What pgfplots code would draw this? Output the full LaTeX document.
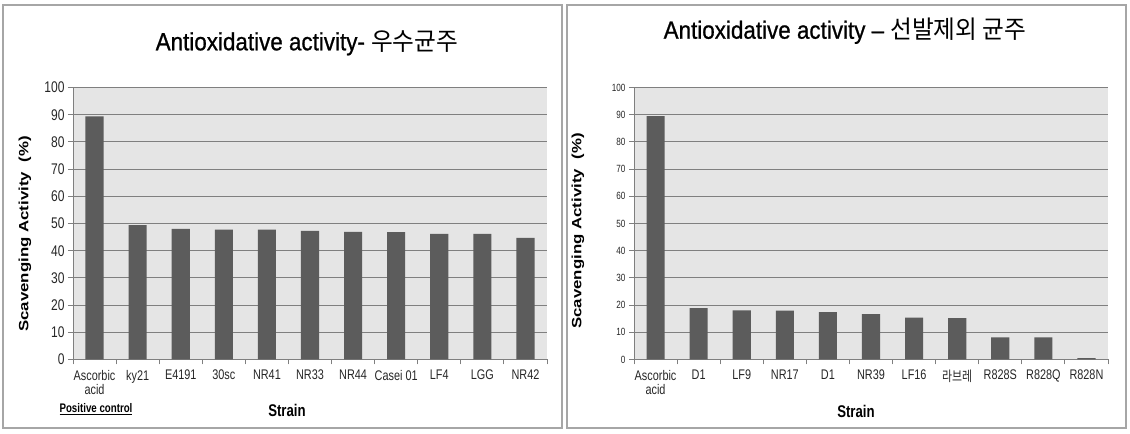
\documentclass[border=0pt]{standalone}
\usepackage{pgfplots}
\pgfplotsset{compat=1.18}
\usepackage{fontspec}
\setmainfont{Liberation Sans}
\newfontfamily\nar[FakeStretch=0.78]{Liberation Sans}
\newfontfamily\krnar[FakeStretch=0.78]{Noto Sans CJK KR}
\newfontfamily\tit[FakeStretch=0.9,FakeBold=0.8]{Liberation Sans}
\newfontfamily\krt[FakeStretch=0.95]{Noto Sans CJK KR}
\newfontfamily\ylab[FakeStretch=1.25]{Liberation Sans}
\definecolor{barc}{HTML}{5C5C5C}
\definecolor{bgc}{HTML}{E5E5E5}
\definecolor{gridc}{HTML}{7F7F7F}
\definecolor{brd}{HTML}{A6A6A6}

\pgfplotstableread{
x y
0 89.4
1 49.4
2 48.0
3 47.7
4 47.7
5 47.3
6 46.9
7 46.8
8 46.2
9 46.2
10 44.7
}\leftdata
\pgfplotstableread{
x y
0 89.5
1 18.9
2 18.1
3 18.0
4 17.4
5 16.7
6 15.4
7 15.2
8 8.1
9 8.1
10 0.5
}\rightdata

\pgfplotsset{myax/.style={
  scale only axis, width=474bp, height=272bp,
  xmin=-0.5, xmax=10.5, ymin=0, ymax=100,
  ytick={0,10,...,100}, xtick={0,...,10},
  minor xtick={-0.5,0.5,...,10.5},
  axis x line*=bottom, axis y line*=left,
  axis line style={draw=gridc, line width=0.9bp},
  axis background/.style={fill=bgc},
  ymajorgrids, major grid style={draw=gridc, line width=0.9bp},
  tick align=outside, major tick length=5bp, minor tick length=5bp,
  major x tick style={draw=none},
  minor x tick style={draw=gridc, line width=0.9bp},
  ytick style={draw=gridc, line width=0.9bp},
  xticklabel style={font=\fontsize{14}{14}\nar, align=center, text=black!85, yshift=-2bp},
  yticklabel style={text=black!85},
  /pgf/number format/assume math mode=true,
  clip=false,
}}

\begin{document}
\begin{tikzpicture}[x=1bp,y=1bp]
\path (0,0) rectangle (1130,434);
\draw[draw=brd, line width=1.3bp] (3,6) rectangle (562,429);
\draw[draw=brd, line width=1.3bp] (567,6) rectangle (1126,429);

\begin{axis}[myax, at={(73bp,74.5bp)}, anchor=south west,
  yticklabel style={font=\fontsize{15.5}{15.5}\nar},
  xticklabels={Ascorbic\\acid, ky21, E4191, 30sc, NR41, NR33, NR44, Casei 01, LF4, LGG, NR42}]
\addplot[ybar, bar width=0.42, fill=barc, draw=none] table[x=x,y=y] {\leftdata};
\end{axis}

\begin{axis}[myax, at={(634bp,74.5bp)}, anchor=south west,
  yticklabel style={font=\fontsize{10.5}{10.5}\nar},
  xticklabels={Ascorbic\\acid, D1, LF9, NR17, D1, NR39, LF16, {\krnar 라브레}, R828S, R828Q, R828N}]
\addplot[ybar, bar width=0.42, fill=barc, draw=none] table[x=x,y=y] {\rightdata};
\end{axis}

\node[font=\fontsize{25}{25}\tit] at (307,391) {Antioxidative activity- {\krt 우수균주}};
\node[font=\fontsize{25}{25}\tit] at (845,403) {Antioxidative activity – {\krt 선발제외 균주}};

\node[rotate=90, font=\fontsize{13.5}{13.5}\ylab\bfseries] at (25,200) {Scavenging Activity~ (\%)};
\node[rotate=90, font=\fontsize{13.5}{13.5}\ylab\bfseries] at (578,203) {Scavenging Activity~ (\%)};

\node[font=\fontsize{17}{17}\nar\bfseries] at (287,24) {Strain};
\node[font=\fontsize{17}{17}\nar\bfseries] at (856,23) {Strain};
\node[font=\fontsize{12.5}{12.5}\nar\bfseries] at (96,25) {\underline{Positive control}};
\end{tikzpicture}
\end{document}
